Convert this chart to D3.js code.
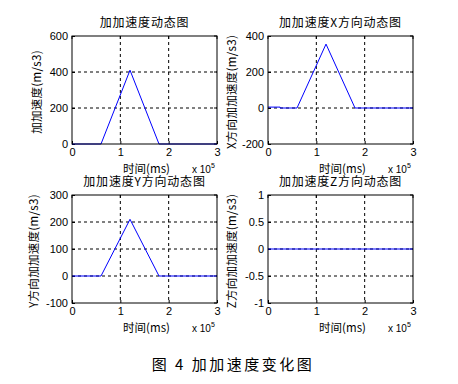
<!DOCTYPE html>
<html>
<head>
<meta charset="utf-8">
<script src="https://cdn.jsdelivr.net/npm/d3@7"></script>
<style>
  body { margin: 0; background: #fff; }
  text { font-family: "Liberation Sans", Arial, sans-serif; fill: #000; }
  .cjk { font-family: "Noto Sans CJK SC", sans-serif; }
</style>
</head>
<body>
<svg id="fig" width="458" height="384"></svg>
<script>
// time points (x 10^5 ms) and jerk values
var timeTotal = [0, 0.6, 1.2, 1.8, 3];
var jerkTotal = [0, 0, 410, 0, 0];
var timeX = [0, 0.25, 0.25, 0.6, 1.2, 1.8, 3];
var jerkX = [5, 5, 0, 0, 355, 0, 0];
var timeY = [0, 0.6, 1.2, 1.8, 3];
var jerkY = [0, 0, 210, 0, 0];
var timeZ = [0, 3];
var jerkZ = [0, 0];

var xTicks = [0, 1, 2, 3];
var titles = ["加加速度动态图", "加加速度X方向动态图", "加加速度Y方向动态图", "加加速度Z方向动态图"];
var yLabels = ["加加速度(m/s3)", "X方向加加速度(m/s3)", "Y方向加加速度(m/s3)", "Z方向加加速度(m/s3)"];
var yDomains = [[0, 600], [-200, 400], [-100, 300], [-1, 1]];
var yTicks = [[0, 200, 400, 600], [-200, 0, 200, 400], [-100, 0, 100, 200, 300], [-1, -0.5, 0, 0.5, 1]];
var caption = "图 4  加加速度变化图";

var panels = [
    {t: timeTotal, v: jerkTotal, left: 72, top: 36, ylabX: 41},
    {t: timeX, v: jerkX, left: 268, top: 36, ylabX: 236},
    {t: timeY, v: jerkY, left: 72, top: 195, ylabX: 38},
    {t: timeZ, v: jerkZ, left: 268, top: 195, ylabX: 236}
];

width = 145;
height = 108;

svg = d3.select("#fig");

panels.forEach(function(p, i) {
    g = svg.append("g").attr("transform", "translate(" + p.left + "," + p.top + ")");

    x = d3.scaleLinear().domain([0, 3]).range([0, width]);
    y = d3.scaleLinear().domain(yDomains[i]).range([height, 0]);

    // dashed grid at inner ticks
    g.selectAll(".gx").data(xTicks.slice(1, -1)).enter().append("line")
        .attr("x1", d => x(d)).attr("x2", d => x(d))
        .attr("y1", 0).attr("y2", height)
        .attr("stroke", "#000").attr("stroke-dasharray", "3,3");
    g.selectAll(".gy").data(yTicks[i].slice(1, -1)).enter().append("line")
        .attr("x1", 0).attr("x2", width)
        .attr("y1", d => y(d)).attr("y2", d => y(d))
        .attr("stroke", "#000").attr("stroke-dasharray", "3,3");

    // axes
    g.append("g").attr("transform", "translate(0," + height + ")")
        .call(d3.axisBottom(x).tickValues(xTicks).tickSize(-3).tickPadding(4).tickFormat(d3.format("d")))
        .call(a => a.select(".domain").remove())
        .selectAll("text").attr("font-size", 11).attr("font-family", "Liberation Sans, Arial");
    g.append("g")
        .call(d3.axisLeft(y).tickValues(yTicks[i]).tickSize(-3).tickPadding(4).tickFormat(d => d))
        .call(a => a.select(".domain").remove())
        .selectAll("text").attr("font-size", 11).attr("font-family", "Liberation Sans, Arial");
    g.selectAll(".tick line").attr("stroke", "#000");

    // right/top ticks like matlab
    g.selectAll(".tr").data(yTicks[i]).enter().append("line")
        .attr("x1", width).attr("x2", width - 3)
        .attr("y1", d => y(d)).attr("y2", d => y(d)).attr("stroke", "#000");
    g.selectAll(".tt").data(xTicks).enter().append("line")
        .attr("x1", d => x(d)).attr("x2", d => x(d))
        .attr("y1", 0).attr("y2", 3).attr("stroke", "#000");

    // data
    g.append("path")
        .datum(d3.zip(p.t, p.v))
        .attr("fill", "none").attr("stroke", "#0000ff").attr("stroke-width", 1)
        .attr("d", d3.line().x(d => x(d[0])).y(d => y(d[1])));

    // frame
    g.append("rect").attr("width", width).attr("height", height)
        .attr("fill", "none").attr("stroke", "#000");

    // title & labels
    g.append("text").attr("class", "cjk").attr("x", width / 2).attr("y", -9)
        .attr("text-anchor", "middle").attr("font-size", 12).attr("letter-spacing", 0.8).text(titles[i]);
    g.append("text").attr("class", "cjk").attr("x", width / 2 + 2).attr("y", height + 29)
        .attr("text-anchor", "middle").attr("font-size", 11.5).text("时间(ms)");
    ex = g.append("text").attr("x", width - 25).attr("y", height + 29).attr("font-size", 10);
    ex.append("tspan").text("x 10");
    ex.append("tspan").attr("font-size", 7).attr("dy", -5).text("5");
    svg.append("text").attr("class", "cjk")
        .attr("transform", "translate(" + p.ylabX + "," + (p.top + height / 2 + 2) + ") rotate(-90)")
        .attr("text-anchor", "middle").attr("font-size", 11.5).attr("letter-spacing", 0.3).text(yLabels[i]);
});

svg.append("text").attr("class", "cjk").attr("x", 233).attr("y", 370)
    .attr("text-anchor", "middle").attr("font-size", 15).attr("letter-spacing", 2.5).text(caption);
</script>
</body>
</html>
